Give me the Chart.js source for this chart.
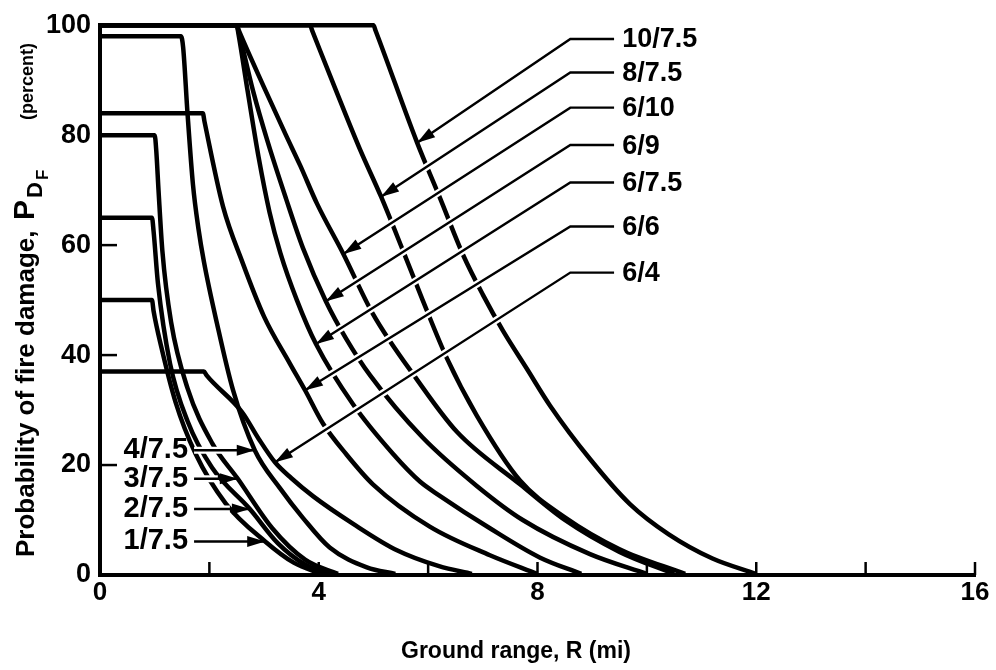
<!DOCTYPE html>
<html>
<head>
<meta charset="utf-8">
<title>Probability of fire damage vs ground range</title>
<script src="https://cdn.jsdelivr.net/npm/chart.js@4.4.1/dist/chart.umd.min.js"></script>
<style>
  html, body { margin: 0; padding: 0; background: #fff; }
  #wrap { position: relative; width: 996px; height: 670px; }
</style>
</head>
<body>
<div id="wrap"><canvas id="fire-chart"></canvas></div>
<script>
// curves: yield (MT) / visibility (mi), points are [ground range (mi), P_DF (%)]
let curve10_75 = [[0,100],[5.0,100],[5.04,99],[5.8,78.6],[6.22,68.5],[6.64,58.2],[7.0,51],[7.37,44.4],[7.8,37.6],[8.23,30.8],[8.96,21.1],[9.69,12.9],[10.4,7.4],[11.2,3],[12,0.2]];
let curve8_75 = [[0,100],[3.84,100],[3.88,99],[4.3,88.5],[4.75,77.5],[5.14,68.8],[5.54,59],[5.9,50],[6.34,39.5],[6.89,29],[7.68,17.2],[8.5,10.5],[9.5,4.7],[10.7,0.2]];
let curve6_10 = [[0,100],[2.5,100],[2.54,99],[3.0,88.7],[3.4,80],[3.66,74.5],[3.97,67.5],[4.45,58.4],[4.99,47.5],[5.8,35.5],[6.53,26],[7.68,16.5],[8.5,10],[9.5,4.2],[10.5,0.2]];
let curve6_9 = [[0,100],[2.5,100],[2.53,99],[2.8,88],[3.06,79],[3.4,68.5],[3.71,59.5],[4.13,49.8],[4.5,43],[4.94,36.3],[5.9,25],[6.89,16.2],[7.73,10],[8.96,3.8],[10.0,0.2]];
let curve6_75 = [[0,100],[2.5,100],[2.53,98.5],[2.7,88],[2.9,76],[3.1,66],[3.3,58.5],[3.6,50],[3.95,42],[4.63,31],[5.36,22],[5.85,17],[6.2,14.5],[7.13,8.5],[8.04,3.2],[8.8,0.2]];
let curve6_6 = [[0,84],[1.88,84],[1.91,82.5],[2.25,67],[2.6,57],[3.0,47],[3.47,38.5],[3.75,33.6],[4.08,27.5],[4.5,22],[4.99,16.5],[6.03,8.8],[7.13,3.6],[8.0,0.2]];
let curve6_4 = [[0,37],[1.9,37],[1.95,36.3],[2.6,29.6],[2.9,24.8],[3.2,20.5],[3.5,17.6],[3.9,14.3],[4.63,9.3],[5.43,4.5],[6.2,1.6],[6.8,0.2]];
let curve4_75 = [[0,98],[1.48,98],[1.52,96],[1.6,84],[1.7,71],[1.8,63],[1.9,57],[2.14,45.7],[2.43,33.7],[2.83,22.7],[3.29,15.8],[3.71,10.4],[4.2,5],[4.88,1.4],[5.4,0.2]];
let curve3_75 = [[0,80],[1.0,80],[1.03,77],[1.07,70],[1.14,59],[1.3,46],[1.6,34],[2.05,24],[2.52,17.5],[3.15,8.5],[3.75,2.8],[4.35,0.2]];
let curve2_75 = [[0,65],[0.95,65],[0.98,62.5],[1.06,53],[1.28,38.5],[1.6,28],[2.05,19.5],[2.74,12],[3.25,5.8],[3.75,1.9],[4.2,0.2]];
let curve1_75 = [[0,50],[0.95,50],[0.98,48],[1.12,41.5],[1.38,31.5],[1.75,22],[2.3,13],[3.02,6.1],[3.55,2.2],[4.05,0.2]];

let curves = [curve10_75, curve8_75, curve6_10, curve6_9, curve6_75, curve6_6, curve6_4, curve4_75, curve3_75, curve2_75, curve1_75];

// axis ticks
let xTickLabels = [0, 4, 8, 12, 16];
let xTickMarks = [2, 4, 6, 8, 10, 12, 14, 16];
let yTickLabels = [0, 20, 40, 60, 80, 100];
let yTickMarks = [20, 40, 60, 80];

// callouts on the right: name, arrow tip on the curve, height of the label
let rightNames = ['10/7.5', '8/7.5', '6/10', '6/9', '6/7.5', '6/6', '6/4'];
let rightTips = [[5.8,78.6],[5.14,68.8],[4.45,58.4],[4.13,49.8],[3.95,42],[3.75,33.6],[3.2,20.5]];
let rightLabelY = [97.5, 91.4, 85.0, 78.2, 71.4, 63.4, 55.0];
let rightElbowX = 8.6;
let rightHookX = 9.4;
let rightTextX = 9.55;

// callouts on the left (horizontal arrows)
let leftNames = ['4/7.5', '3/7.5', '2/7.5', '1/7.5'];
let leftTips = [[2.83,22.7],[2.52,17.5],[2.74,12],[3.02,6.1]];
let leftTextX = 1.61;
let leftLineX = 1.72;

const FONT = '"Liberation Sans", Arial, Helvetica, sans-serif';

function arrowHead(ctx, fx, fy, tx, ty, len, half) {
  let a = Math.atan2(ty - fy, tx - fx);
  ctx.beginPath();
  ctx.moveTo(tx, ty);
  ctx.lineTo(tx - len * Math.cos(a) + half * Math.sin(a), ty - len * Math.sin(a) - half * Math.cos(a));
  ctx.lineTo(tx - len * Math.cos(a) - half * Math.sin(a), ty - len * Math.sin(a) + half * Math.cos(a));
  ctx.closePath();
  ctx.fill();
}

// leader line with a white halo so it cuts through the curves it crosses
function leader(ctx, pts) {
  ctx.lineJoin = 'miter';
  ctx.strokeStyle = '#fff';
  ctx.lineWidth = 7;
  ctx.beginPath();
  let n = pts.length;
  let last = pts[n - 1], prev = pts[n - 2];
  let d = Math.hypot(last[0] - prev[0], last[1] - prev[1]);
  let stop = [last[0] - (last[0] - prev[0]) * 20 / d, last[1] - (last[1] - prev[1]) * 20 / d];
  ctx.moveTo(pts[0][0], pts[0][1]);
  for (let i = 1; i < n - 1; i++) ctx.lineTo(pts[i][0], pts[i][1]);
  ctx.lineTo(stop[0], stop[1]);
  ctx.stroke();
  ctx.strokeStyle = '#000';
  ctx.lineWidth = 2.4;
  ctx.beginPath();
  ctx.moveTo(pts[0][0], pts[0][1]);
  for (let i = 1; i < n; i++) ctx.lineTo(pts[i][0], pts[i][1]);
  ctx.stroke();
  arrowHead(ctx, prev[0], prev[1], last[0], last[1], 18, 5.5);
}

const calloutPlugin = {
  id: 'callouts',
  afterDatasetsDraw(chart) {
    const ctx = chart.ctx;
    const xs = chart.scales.x, ys = chart.scales.y;
    ctx.save();
    ctx.fillStyle = '#000';

    // inward tick marks
    ctx.strokeStyle = '#000';
    ctx.lineWidth = 2.5;
    xTickMarks.forEach(v => {
      let px = xs.getPixelForValue(v);
      ctx.beginPath(); ctx.moveTo(px, ys.bottom); ctx.lineTo(px, ys.bottom - 13); ctx.stroke();
    });
    yTickMarks.forEach(v => {
      let py = ys.getPixelForValue(v);
      ctx.beginPath(); ctx.moveTo(xs.left, py); ctx.lineTo(xs.left + 17, py); ctx.stroke();
    });

    ctx.textBaseline = 'middle';

    ctx.font = 'bold 27px ' + FONT;
    rightNames.forEach((name, i) => {
      let ly = ys.getPixelForValue(rightLabelY[i]);
      let pts = [
        [xs.getPixelForValue(rightHookX), ly],
        [xs.getPixelForValue(rightElbowX), ly],
        [xs.getPixelForValue(rightTips[i][0]), ys.getPixelForValue(rightTips[i][1])]
      ];
      leader(ctx, pts);
      ctx.textAlign = 'left';
      ctx.fillText(name, xs.getPixelForValue(rightTextX), ly + 1);
    });

    ctx.font = 'bold 29px ' + FONT;
    leftNames.forEach((name, i) => {
      let ty = ys.getPixelForValue(leftTips[i][1]);
      let pts = [
        [xs.getPixelForValue(leftLineX), ty],
        [xs.getPixelForValue(leftTips[i][0]), ty]
      ];
      leader(ctx, pts);
      ctx.textAlign = 'right';
      ctx.fillText(name, xs.getPixelForValue(leftTextX), ty);
    });
    ctx.restore();
  },
  afterDraw(chart) {
    const ctx = chart.ctx;
    ctx.save();
    ctx.fillStyle = '#000';

    // x axis title
    ctx.font = 'bold 23px ' + FONT;
    ctx.textAlign = 'center';
    ctx.textBaseline = 'middle';
    ctx.fillText('Ground range, R (mi)', 516, 652);

    // y axis title with P sub D sub F, reading upwards
    ctx.translate(34, 557);
    ctx.rotate(-Math.PI / 2);
    ctx.textAlign = 'left';
    ctx.textBaseline = 'alphabetic';
    ctx.font = 'bold 26px ' + FONT;
    ctx.fillText('Probability of fire damage,', 0, 0);
    // [text, font size, start along the axis, baseline shift]
    let parts = [['P', 30, 337, 0], ['D', 22, 359, 8], ['F', 17, 377, 14]];
    parts.forEach(p => {
      ctx.font = 'bold ' + p[1] + 'px ' + FONT;
      ctx.fillText(p[0], p[2], p[3]);
    });
    ctx.font = 'bold 18px ' + FONT;
    ctx.textAlign = 'right';
    ctx.fillText('(percent)', 514, -1);
    ctx.restore();
  }
};

let datasets = curves.map((c, i) => ({
  label: i < rightNames.length ? rightNames[i] : leftNames[i - rightNames.length],
  data: c,
  borderColor: '#000',
  borderWidth: 4.5,
  pointRadius: 0,
  fill: false,
  cubicInterpolationMode: 'monotone',
  clip: false
}));

new Chart(document.getElementById('fire-chart'), {
  type: 'line',
  data: { datasets: datasets },
  options: {
    responsive: true,
    maintainAspectRatio: false,
    animation: false,
    layout: { padding: { top: 15, right: 21, left: 0, bottom: 0 } },
    plugins: {
      legend: { display: false },
      tooltip: { enabled: false },
      title: { display: false }
    },
    scales: {
      x: {
        type: 'linear',
        min: 0,
        max: 16,
        afterFit: s => { s.height = 95; },
        afterBuildTicks: s => { s.ticks = xTickLabels.map(v => ({ value: v })); },
        grid: { display: false, drawTicks: false },
        border: { display: true, color: '#000', width: 4 },
        ticks: {
          color: '#000',
          padding: 5,
          font: { family: FONT, size: 26, weight: 'bold', lineHeight: 1 },
          maxRotation: 0
        }
      },
      y: {
        type: 'linear',
        min: 0,
        max: 100,
        afterFit: s => { s.width = 100; },
        afterBuildTicks: s => { s.ticks = yTickLabels.map(v => ({ value: v })); },
        grid: { display: false, drawTicks: false },
        border: { display: true, color: '#000', width: 4 },
        ticks: {
          color: '#000',
          padding: 9,
          font: { family: FONT, size: 27, weight: 'bold' }
        }
      }
    }
  },
  plugins: [calloutPlugin]
});
</script>
</body>
</html>
